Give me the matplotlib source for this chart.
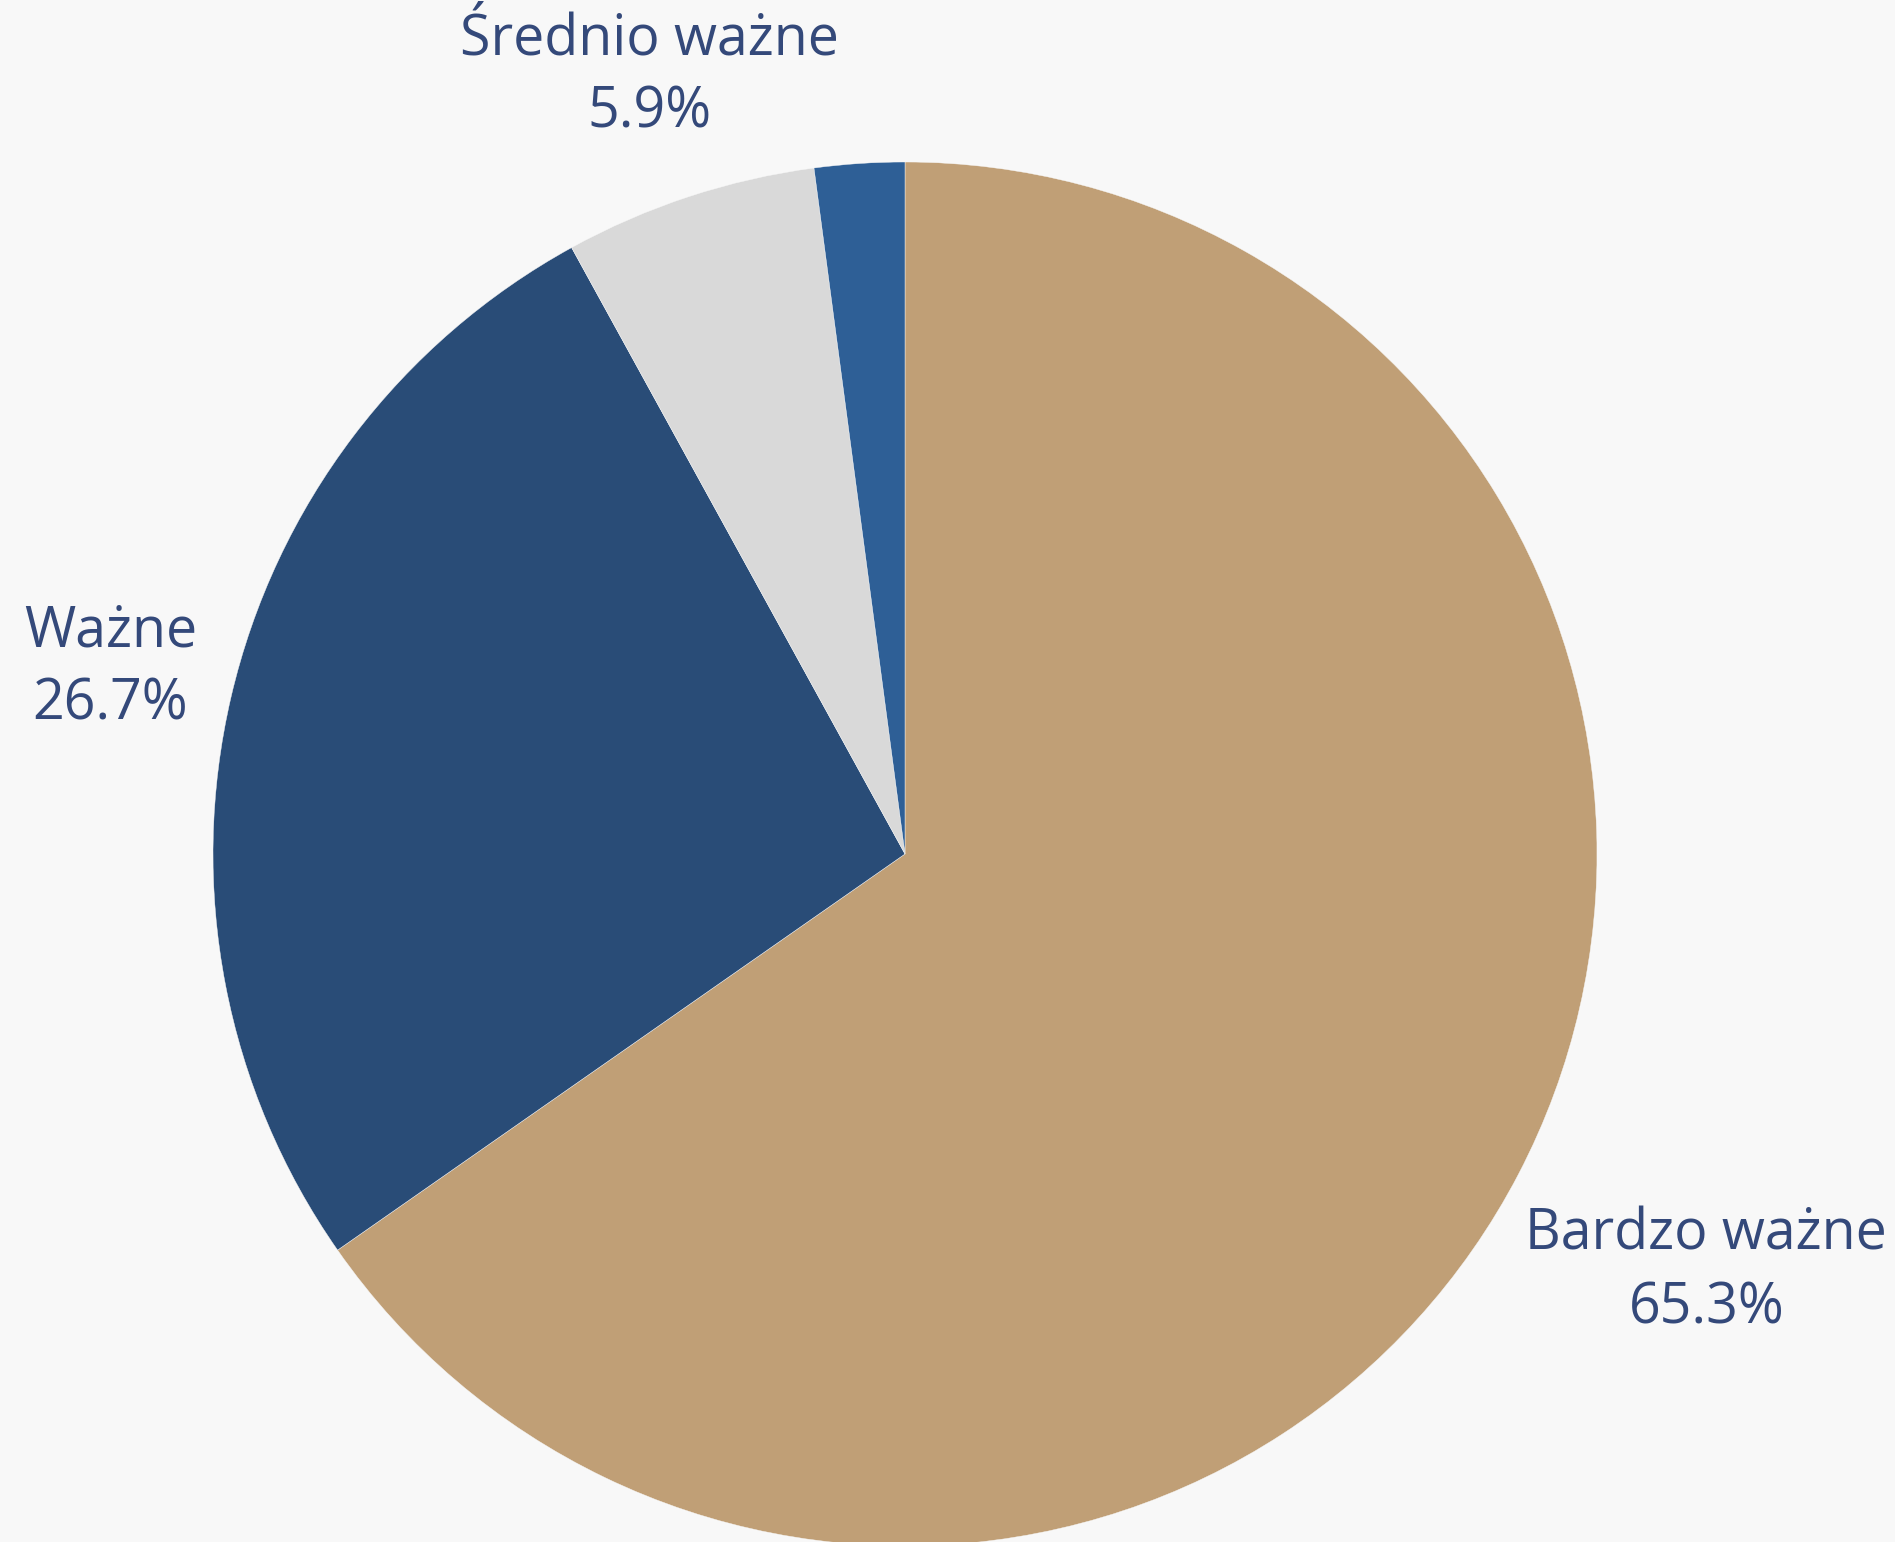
import numpy as np
import matplotlib.pyplot as plt

# dane
kategorie = ['Bardzo ważne', 'Ważne', 'Średnio ważne', '']
wartosci = [65.3, 26.7, 5.9, 2.1]
kolory = ['#c09f76', '#294c77', '#d9d9d9', '#2e5f96']
odleglosc_etykiet = [1.306, 1.179, 1.183, 1.2]

tlo = '#f8f8f8'
kolor_tekstu = '#34497a'

fig = plt.figure(figsize=(18.95, 15.42), dpi=100, facecolor=tlo)
# srodek kola ok. (905, 853) px, promien ok. 692 px
ax = fig.add_axes([213 / 1895, -4 / 1542, 1384 / 1895, 1384 / 1542])
ax.set_facecolor(tlo)

wedges, _ = ax.pie(wartosci, colors=kolory, startangle=90, counterclock=False,
                   radius=1, wedgeprops=dict(linewidth=0.3, edgecolor=tlo))
ax.set_xlim(-1, 1)
ax.set_ylim(-1, 1)
ax.axis('off')

suma = sum(wartosci)
for w, nazwa, val, d in zip(wedges, kategorie, wartosci, odleglosc_etykiet):
    if not nazwa:
        continue
    kat = np.deg2rad((w.theta1 + w.theta2) / 2)
    x, y = d * np.cos(kat), d * np.sin(kat)
    ax.text(x, y, f'{nazwa}\n{val / suma * 100:.1f}%', ha='center', va='center',
            fontsize=40, family='Open Sans', color=kolor_tekstu,
            linespacing=1.38, clip_on=False)

fig.savefig('out.png', dpi=100, facecolor=tlo)
plt.close(fig)
